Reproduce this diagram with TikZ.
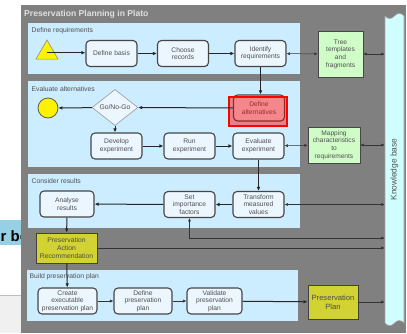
\documentclass[tikz,border=0pt]{standalone}
\usepackage{fontspec}
\setmainfont{Liberation Sans}
\usepackage{xcolor}
\usepackage{tikz}
\usetikzlibrary{shapes.symbols,shapes.geometric,arrows.meta}

\definecolor{panelgray}{RGB}{128,128,128}
\definecolor{lanefill}{RGB}{204,236,255}
\definecolor{boxfill}{RGB}{236,246,255}
\definecolor{boxline}{RGB}{70,70,70}
\definecolor{boxtext}{RGB}{80,80,80}
\definecolor{greenfill}{RGB}{208,252,200}
\definecolor{planyellow}{RGB}{210,210,50}
\definecolor{kbfill}{RGB}{208,254,255}
\definecolor{slideblue}{RGB}{150,208,228}

\begin{document}
\begin{tikzpicture}[x=1pt,y=1pt,yscale=-1,xscale=1,
  procbox/.style={draw=boxline,line width=1.1pt,rounded corners=4pt,fill=boxfill,text=boxtext,
    minimum width=51,minimum height=26,inner sep=0.5pt,align=center,font=\fontsize{6.7}{7.5}\selectfont},
  greenbox/.style={draw=boxline,line width=0.6pt,fill=greenfill,text=boxtext,
    inner sep=0.5pt,align=center,font=\fontsize{6.6}{7.7}\selectfont},
  resultbox/.style={draw=black!75,line width=0.9pt,fill=planyellow,text=black!70,
    inner sep=0.5pt,align=center,font=\fontsize{6.8}{8}\selectfont},
  lanetitle/.style={anchor=west,inner sep=0.5pt,text=boxtext,font=\fontsize{6.8}{8}\selectfont},
  flow/.style={-{Latex[length=4pt,width=3.6pt]},line width=1pt,draw=black!85},
  thinflow/.style={-{Latex[length=3.6pt,width=3.2pt]},line width=0.6pt,draw=black!80},
  dbl/.style={{Latex[length=3.4pt,width=3pt]}-{Latex[length=3.4pt,width=3pt]},line width=0.5pt,draw=black!80}]
\useasboundingbox (0,0) rectangle (407,333);

%Shape: slide behind the panel
\fill[white] (0,0) rectangle (407,333);
\fill[slideblue] (0,220) rectangle (24,245);
\node[anchor=base west,inner sep=0pt,font=\fontsize{15}{15}\bfseries\selectfont] (slidetext) at (0.5,241) {r be};
\fill[black!6] (0,295) rectangle (24,333);
\draw[black!25,line width=0.6pt] (0,295) -- (24,295);

%Shape: main panel
\fill[panelgray] (21,5) rectangle (406,333);
% Text Node
\node[anchor=west,inner sep=0pt,text=white!88!black,font=\fontsize{8.6}{10}\bfseries\selectfont] (title) at (24,14) {Preservation Planning in Plato};

%Shape: lanes
\fill[lanefill] (28,23) rectangle (300,74);
\fill[lanefill] (28,81) rectangle (300,167);
\fill[lanefill] (28,174) rectangle (300,228);
\fill[lanefill] (27,270) rectangle (298,321);
\node[lanetitle] (lanereq) at (31,31) {Define requirements};
\node[lanetitle] (lanealt) at (31,89) {Evaluate alternatives};
\node[lanetitle] (laneres) at (31,181) {Consider results};
\node[lanetitle] (laneplan) at (29,277) {Build preservation plan};

%Shape: knowledge base
\node[tape,draw=black!35,line width=0.6pt,fill=kbfill,minimum width=19,minimum height=312,inner sep=0pt,
  text=boxtext,font=\fontsize{8.4}{9}\selectfont] (kb) at (394.5,169.5) {\rotatebox{90}{Knowledge base}};

%Shape: define requirements
\node[regular polygon,regular polygon sides=3,minimum size=25.4,inner sep=0pt,draw=black!45,line width=0.6pt,fill=yellow] (start) at (47,52.7) {};
\node[procbox] (defbasis) at (111.5,53.5) {Define basis};
\node[procbox] (choose) at (183,53.5) {Choose\\records};
\node[procbox] (identify) at (260.5,53.5) {Identify\\requirements};
\node[greenbox,minimum width=45,minimum height=46] (tree) at (340.5,54) {Tree\\templates\\and\\fragments};

%Shape: evaluate alternatives
\node[procbox] (defalt) at (259,108) {Define\\alternatives};
\draw[red,line width=1.1pt,fill=red,fill opacity=0.45] (229,97) rectangle (287,126);
\node[diamond,draw=black!40,line width=0.6pt,fill=boxfill,text=boxtext,minimum width=46,minimum height=29,
  inner sep=0pt,font=\fontsize{6.8}{8}\selectfont] (gonogo) at (115,107.5) {Go/No-Go};
\node[circle,draw=black!70,line width=0.7pt,fill=yellow,minimum size=20,inner sep=0pt] (endc) at (48,108) {};
\node[procbox] (develop) at (116.5,146) {Develop\\experiment};
\node[procbox] (run) at (189.5,146) {Run\\experiment};
\node[procbox] (evaluate) at (258.5,146) {Evaluate\\experiment};
\node[greenbox,minimum width=52,minimum height=36] (mapping) at (334,145) {Mapping\\characteristics\\to\\requirements};

%Shape: consider results
\node[procbox] (transform) at (258.5,204.5) {Transform\\measured\\values};
\node[procbox] (setimp) at (189.5,204.5) {Set\\importance\\factors};
\node[procbox,minimum width=54] (analyse) at (67,204) {Analyse\\results};
\node[resultbox,minimum width=61,minimum height=30] (par) at (66.5,248) {Preservation\\Action\\Recommendation};
\coordinate (busa) at (189.5,238);

%Shape: build preservation plan
\node[procbox,minimum width=59] (create) at (67.5,301) {Create\\executable\\preservation plan};
\node[procbox,minimum width=58] (defplan) at (143,301) {Define\\preservation\\plan};
\node[procbox,minimum width=55] (validate) at (214.5,301) {Validate\\preservation\\plan};
\node[resultbox,minimum width=50,minimum height=34,font=\fontsize{7.6}{9}\selectfont] (plan) at (333,302) {Preservation\\Plan};

%Straight Lines
\draw[flow] (start.center) -- (start.center -| defbasis.west);
\draw[flow] (defbasis) -- (choose);
\draw[flow] (choose) -- (identify);
\draw[dbl] (identify) -- (tree);
\draw[dbl] (tree) -- (tree -| kb.west);
\draw[flow] (identify.south) -- (identify.south |- defalt.north);
\draw[flow] (defalt) -- (gonogo);
\draw[flow] (gonogo) -- (endc);
\draw[flow] (gonogo.south) -- (gonogo.south |- develop.north);
\draw[flow] (develop) -- (run);
\draw[flow] (run) -- (evaluate);
\draw[dbl] (evaluate) -- (mapping);
\draw[dbl] (mapping) -- (mapping -| kb.west);
\draw[flow] (evaluate) -- (transform);
\draw[flow] (transform) -- (setimp);
\draw[dbl] (transform) -- (transform -| kb.west);
\draw[flow] (setimp) -- (analyse);
\draw[dbl] (setimp.south) -- (busa) -- (busa -| kb.west);
\draw[flow] (analyse) -- (par);
\draw[thinflow] (par) -- (par -| kb.west);
\draw[flow] (par) -- (create);
\draw[thinflow] (create) -- (defplan);
\draw[thinflow] (defplan) -- (validate);
\draw[flow] (validate) -- (plan);
\draw[thinflow] (plan) -- (plan -| kb.west);

\end{tikzpicture}
\end{document}
